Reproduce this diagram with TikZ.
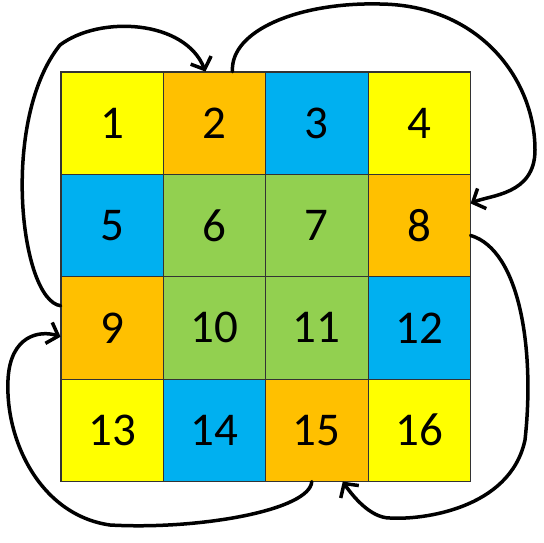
\documentclass[tikz,border=0pt]{standalone}
\usepackage{fontspec}
\setmainfont{Carlito}
\usetikzlibrary{arrows.meta}
\definecolor{cellYellow}{RGB}{255,255,0}
\definecolor{cellOrange}{RGB}{255,192,0}
\definecolor{cellBlue}{RGB}{0,176,240}
\definecolor{cellGreen}{RGB}{146,208,80}
\begin{document}
\begin{tikzpicture}[x=1pt,y=-1pt,
    cell/.style={draw=black!80, line width=0.8pt, minimum size=102.3pt,
      inner sep=0pt, font=\fontsize{47}{50}\selectfont},
    hop/.style={line width=3.5pt, line cap=round,
      -{Straight Barb[length=10pt,width=22pt,line width=3.5pt]}}
  ]
  \useasboundingbox (0,0) rectangle (544,542);
  \foreach \n/\col [count=\i from 0] in {1/cellYellow,2/cellOrange,3/cellBlue,4/cellYellow,
      5/cellBlue,6/cellGreen,7/cellGreen,8/cellOrange,
      9/cellOrange,10/cellGreen,11/cellGreen,12/cellBlue,
      13/cellYellow,14/cellBlue,15/cellOrange,16/cellYellow}
    \node[cell, fill=\col] (c\n) at ({112.15+102.3*mod(\i,4)},{123.15+102.3*int(\i/4)}) {\n};
  \draw[black!80, line width=1.5pt] (c1.north west) rectangle (c16.south east);
  % moves between the cells
  \draw[hop] ([yshift=22pt]c9.west) .. controls (20,300) and (0,120) .. (60,45)
    .. controls (100,15) and (185,20) .. ([xshift=-9pt]c2.north);
  \draw[hop] ([xshift=18pt]c2.north) .. controls (230,30) and (300,2) .. (380,4)
    .. controls (480,5) and (535,80) .. (535,150)
    .. controls (535,195) and (490,195) .. ([yshift=22pt]c8.east);
  \draw[hop] ([yshift=-10pt]c8.east) .. controls (520,250) and (535,350) .. (525,440)
    .. controls (510,510) and (420,520) .. (390,518)
    .. controls (370,518) and (352,495) .. ([xshift=26pt]c15.south);
  \draw[hop] ([xshift=-5pt]c15.south) .. controls (310,510) and (200,530) .. (110,525)
    .. controls (40,515) and (5,440) .. (8,380)
    .. controls (10,335) and (40,330) .. ([yshift=-9pt]c9.west);
\end{tikzpicture}
\end{document}
